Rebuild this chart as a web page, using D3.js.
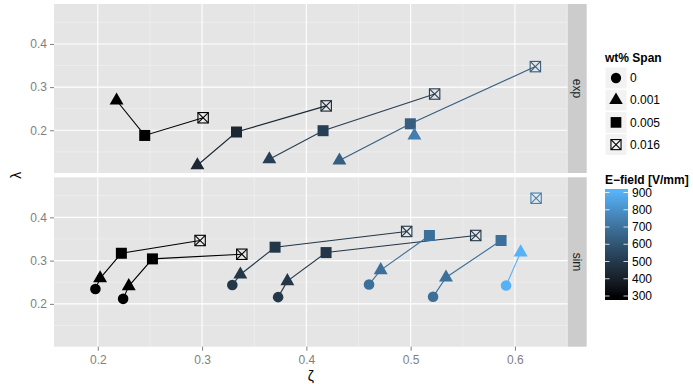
<!DOCTYPE html>
<html>
<head>
<meta charset="utf-8">
<script src="https://cdn.jsdelivr.net/npm/d3@7"></script>
<style>
  html, body { margin: 0; padding: 0; background: #ffffff; }
  svg { display: block; font-family: "Liberation Sans", Arial, Helvetica, sans-serif; }
</style>
</head>
<body>
<svg id="chart" width="693" height="384"></svg>
<script>
// ---- data -------------------------------------------------------------
const spanLevels = [0, 0.001, 0.005, 0.016];
const spanLabels = ["0", "0.001", "0.005", "0.016"];
const facets = ["exp", "sim"];

// experimental runs: one entry per E-field run, points ordered by span
const expField  = [300, 430, 520, 630, 740];
const expSpan   = [[0.001, 0.005, 0.016], [0.001, 0.005, 0.016], [0.001, 0.005, 0.016], [0.001, 0.005, 0.016], [0.001]];
const expZeta   = [[0.218, 0.245, 0.301], [0.2955, 0.333, 0.419], [0.3645, 0.416, 0.523], [0.4317, 0.4997, 0.6196], [0.5036]];
const expLambda = [[0.269, 0.188, 0.229], [0.119, 0.196, 0.2565], [0.133, 0.199, 0.284], [0.130, 0.215, 0.3475], [0.188]];

// simulated runs
const simField  = [300, 300, 490, 490, 690, 690, 900, 750];
const simSpan   = [[0, 0.001, 0.005, 0.016], [0, 0.001, 0.005, 0.016], [0, 0.001, 0.005, 0.016], [0, 0.001, 0.005, 0.016],
                   [0, 0.001, 0.005], [0, 0.001, 0.005], [0, 0.001], [0.016]];
const simZeta   = [[0.1977, 0.2022, 0.2226, 0.2981], [0.2243, 0.2297, 0.2524, 0.3381], [0.329, 0.3367, 0.370, 0.4962],
                   [0.3729, 0.3818, 0.4189, 0.5624], [0.4601, 0.4713, 0.518], [0.5215, 0.5339, 0.5867], [0.5915, 0.6055], [0.6203]];
const simLambda = [[0.2342, 0.259, 0.317, 0.3465], [0.2116, 0.241, 0.304, 0.3147], [0.2435, 0.268, 0.331, 0.3674],
                   [0.2156, 0.2525, 0.3186, 0.3581], [0.2449, 0.278, 0.3581], [0.2163, 0.261, 0.3465], [0.2426, 0.319], [0.4442]];

const xBreaks = [0.2, 0.3, 0.4, 0.5, 0.6];
const xMinor  = [0.25, 0.35, 0.45, 0.55, 0.65];
const yBreaks = [0.2, 0.3, 0.4];
const yMinor  = [0.15, 0.25, 0.35, 0.45];
const fieldBreaks = [300, 400, 500, 600, 700, 800, 900];

// ---- build run tables -------------------------------------------------
function buildRuns(field, span, zeta, lambda) {
  return field.map((f, i) => ({
    field: f,
    points: span[i].map((s, j) => ({ span: s, zeta: zeta[i][j], lambda: lambda[i][j], field: f }))
  }));
}
const runsByFacet = {
  exp: buildRuns(expField, expSpan, expZeta, expLambda),
  sim: buildRuns(simField, simSpan, simZeta, simLambda)
};

// ---- layout -----------------------------------------------------------
const svg = d3.select("#chart");
const panelLeft = 54, panelRight = 567.7;
const panels = { exp: [4, 173], sim: [177.3, 346.7] };
const stripW = 19;

const x = d3.scaleLinear().domain([0.158, 0.6506]).range([panelLeft, panelRight]);
const yScales = {};
facets.forEach(f => {
  yScales[f] = d3.scaleLinear().domain([0.101, 0.4926]).range([panels[f][1], panels[f][0]]);
});

const colour = d3.scaleLinear().domain([300, 900])
  .range(["#000000", "#56B1F7"]).interpolate(d3.interpolateLab);

// point glyphs by span level
const shapeSize = { circle: 88, triangle: 84, square: 121 };
function drawGlyph(g, span, col, cx, cy, scale = 1) {
  const k = spanLevels.indexOf(span);
  if (k === 0) {
    g.append("path").attr("d", d3.symbol(d3.symbolCircle, shapeSize.circle * scale * scale)())
      .attr("transform", `translate(${cx},${cy})`).attr("fill", col);
  } else if (k === 1) {
    g.append("path").attr("d", d3.symbol(d3.symbolTriangle, shapeSize.triangle * scale * scale)())
      .attr("transform", `translate(${cx},${cy})`).attr("fill", col);
  } else if (k === 2) {
    g.append("path").attr("d", d3.symbol(d3.symbolSquare, shapeSize.square * scale * scale)())
      .attr("transform", `translate(${cx},${cy})`).attr("fill", col);
  } else {
    const h = 5.2 * scale;
    const gg = g.append("g").attr("transform", `translate(${cx},${cy})`)
      .attr("stroke", col).attr("stroke-width", 1.1).attr("fill", "none");
    gg.append("rect").attr("x", -h).attr("y", -h).attr("width", 2 * h).attr("height", 2 * h);
    gg.append("line").attr("x1", -h).attr("y1", -h).attr("x2", h).attr("y2", h);
    gg.append("line").attr("x1", -h).attr("y1", h).attr("x2", h).attr("y2", -h);
  }
}

// ---- panels -----------------------------------------------------------
facets.forEach(f => {
  const y = yScales[f];
  const [top, bottom] = panels[f];
  const g = svg.append("g");

  g.append("rect").attr("x", panelLeft).attr("y", top)
    .attr("width", panelRight - panelLeft).attr("height", bottom - top).attr("fill", "#E5E5E5");

  // minor grid
  g.selectAll(".xminor").data(xMinor).enter().append("line")
    .attr("x1", d => x(d)).attr("x2", d => x(d)).attr("y1", top).attr("y2", bottom)
    .attr("stroke", "#F2F2F2").attr("stroke-width", 0.6);
  g.selectAll(".yminor").data(yMinor).enter().append("line")
    .attr("x1", panelLeft).attr("x2", panelRight).attr("y1", d => y(d)).attr("y2", d => y(d))
    .attr("stroke", "#F2F2F2").attr("stroke-width", 0.6);
  // major grid
  g.selectAll(".xmajor").data(xBreaks).enter().append("line")
    .attr("x1", d => x(d)).attr("x2", d => x(d)).attr("y1", top).attr("y2", bottom)
    .attr("stroke", "#FFFFFF").attr("stroke-width", 1.1);
  g.selectAll(".ymajor").data(yBreaks).enter().append("line")
    .attr("x1", panelLeft).attr("x2", panelRight).attr("y1", d => y(d)).attr("y2", d => y(d))
    .attr("stroke", "#FFFFFF").attr("stroke-width", 1.1);

  // y axis
  const yAxis = d3.axisLeft(y).tickValues(yBreaks).tickSize(4).tickPadding(3).tickFormat(d3.format(".1f"));
  const ya = g.append("g").attr("transform", `translate(${panelLeft},0)`).call(yAxis);
  ya.select(".domain").remove();
  ya.selectAll(".tick line").attr("stroke", "#7F7F7F");
  ya.selectAll(".tick text").attr("fill", "#7F7F7F").style("font-size", "12px")
    .style("font-family", "Liberation Sans, Arial, sans-serif");

  // strip
  g.append("rect").attr("x", panelRight).attr("y", top).attr("width", stripW).attr("height", bottom - top)
    .attr("fill", "#CCCCCC");
  g.append("text").attr("transform", `translate(${panelRight + stripW / 2},${(top + bottom) / 2}) rotate(90)`)
    .attr("text-anchor", "middle").attr("dy", "0.35em").attr("fill", "#1A1A1A")
    .style("font-size", "12px").text(f);

  // runs: lines then points
  const line = d3.line().x(d => x(d.zeta)).y(d => y(d.lambda));
  runsByFacet[f].forEach(run => {
    if (run.points.length > 1) {
      g.append("path").attr("d", line(run.points)).attr("fill", "none")
        .attr("stroke", colour(run.field)).attr("stroke-width", 1.1);
    }
  });
  runsByFacet[f].forEach(run => {
    run.points.forEach(p => drawGlyph(g, p.span, colour(p.field), x(p.zeta), y(p.lambda)));
  });
});

// x axis under the lower panel
const xAxis = d3.axisBottom(x).tickValues(xBreaks).tickSize(4).tickPadding(5).tickFormat(d3.format(".1f"));
const xa = svg.append("g").attr("transform", `translate(0,${panels.sim[1]})`).call(xAxis);
xa.select(".domain").remove();
xa.selectAll(".tick line").attr("stroke", "#7F7F7F");
xa.selectAll(".tick text").attr("fill", "#7F7F7F").style("font-size", "12px")
  .style("font-family", "Liberation Sans, Arial, sans-serif");

// axis titles
svg.append("text").attr("x", (panelLeft + panelRight) / 2).attr("y", 381)
  .attr("text-anchor", "middle").style("font-size", "14px").text("ζ");
svg.append("text").attr("transform", `translate(21,${(panels.exp[0] + panels.sim[1]) / 2}) rotate(-90)`)
  .attr("text-anchor", "middle").style("font-size", "14px").text("λ");

// ---- shape legend -----------------------------------------------------
const lg = svg.append("g");
lg.append("text").attr("x", 605).attr("y", 61.5).style("font-size", "12px").style("font-weight", "bold")
  .text("wt% Span");
spanLevels.forEach((s, i) => {
  const top = 67 + i * 22.2;
  lg.append("rect").attr("x", 605).attr("y", top).attr("width", 22).attr("height", 22)
    .attr("fill", "#F2F2F2").attr("stroke", "#FFFFFF").attr("stroke-width", 1);
  drawGlyph(lg, s, "#000000", 616, top + 11, 0.97);
  lg.append("text").attr("x", 630).attr("y", top + 11).attr("dy", "0.35em")
    .style("font-size", "12px").text(spanLabels[i]);
});

// ---- colour bar -------------------------------------------------------
const cbTop = 189, cbBottom = 300, cbLeft = 605, cbW = 23;
const cbY = d3.scaleLinear().domain([300, 900]).range([296, 192.5]);
lg.append("text").attr("x", 605).attr("y", 183.5).style("font-size", "12px").style("font-weight", "bold")
  .text("E\u2212field [V/mm]");
const defs = svg.append("defs");
const grad = defs.append("linearGradient").attr("id", "efield").attr("x1", 0).attr("x2", 0).attr("y1", 1).attr("y2", 0);
d3.range(0, 21).forEach(i => {
  const v = 300 + i * 30;
  grad.append("stop").attr("offset", (cbBottom - cbY(v)) / (cbBottom - cbTop))
    .attr("stop-color", colour(v));
});
grad.insert("stop", ":first-child").attr("offset", 0).attr("stop-color", colour(300));
grad.append("stop").attr("offset", 1).attr("stop-color", colour(900));
lg.append("rect").attr("x", cbLeft).attr("y", cbTop).attr("width", cbW).attr("height", cbBottom - cbTop)
  .attr("fill", "url(#efield)");
fieldBreaks.forEach(v => {
  const yy = cbY(v);
  lg.append("line").attr("x1", cbLeft).attr("x2", cbLeft + 4.5).attr("y1", yy).attr("y2", yy)
    .attr("stroke", "#FFFFFF").attr("stroke-width", 0.8);
  lg.append("line").attr("x1", cbLeft + cbW - 4.5).attr("x2", cbLeft + cbW).attr("y1", yy).attr("y2", yy)
    .attr("stroke", "#FFFFFF").attr("stroke-width", 0.8);
  lg.append("text").attr("x", 632).attr("y", yy).attr("dy", "0.35em")
    .style("font-size", "12px").text(v);
});
</script>
</body>
</html>
